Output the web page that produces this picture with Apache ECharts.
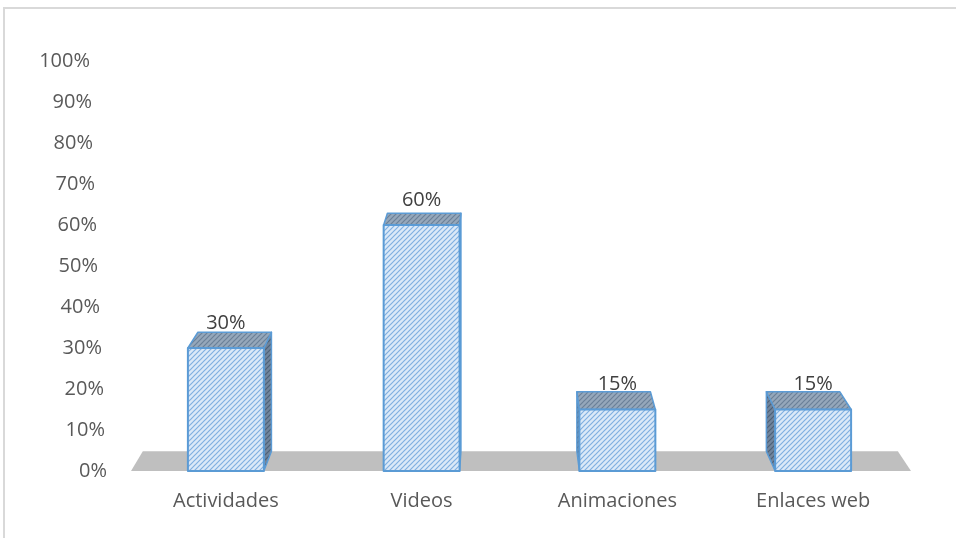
<!DOCTYPE html>
<html>
<head>
<meta charset="utf-8">
<script src="https://cdn.jsdelivr.net/npm/echarts@6/dist/echarts.min.js"></script>
<style>
  html, body { margin: 0; padding: 0; background: #ffffff; }
  #chart { width: 956px; height: 538px; }
</style>
</head>
<body>
<div id="chart"></div>
<script>
// Chart data
const categories = ['Actividades', 'Videos', 'Animaciones', 'Enlaces web'];
const values = [30, 60, 15, 15];
const yTicks = [0, 10, 20, 30, 40, 50, 60, 70, 80, 90, 100];

const FONT = '"Open Sans", "Noto Sans", sans-serif';

// Diagonal hatch tiles used to fill the bar faces
function hatch(bg, line) {
  const s = 5;
  const c = document.createElement('canvas');
  c.width = s; c.height = s;
  const g = c.getContext('2d');
  g.fillStyle = bg;
  g.fillRect(0, 0, s, s);
  g.strokeStyle = line;
  g.lineWidth = 1.2;
  g.beginPath();
  g.moveTo(-1, s + 1); g.lineTo(s + 1, -1);
  g.moveTo(-1, 1); g.lineTo(1, -1);
  g.moveTo(s - 1, s + 1); g.lineTo(s + 1, s - 1);
  g.stroke();
  return { type: 'pattern', image: c, repeat: 'repeat' };
}
const frontFill = hatch('#dbe9f8', '#80afe0');
const topFill = hatch('#95a7ba', '#6b8098');
const sideFill = hatch('#71859d', '#4d6177');
const EDGE = '#5b9bd5';

// Perspective helpers: points recede toward a vanishing point above the plot
function vanish(cs) {
  return [cs.x + cs.width * 0.476, cs.y - 205];
}
const DEPTH = 0.032;
function recede(p, vp) {
  return [p[0] + DEPTH * (vp[0] - p[0]), p[1] + DEPTH * (vp[1] - p[1])];
}

function renderFloor(params, api) {
  const cs = params.coordSys;
  const vp = vanish(cs);
  const y0 = api.coord([0, 0])[1];
  const fl = [cs.x + 3, y0];
  const fr = [cs.x + cs.width, y0];
  return {
    type: 'polygon',
    shape: { points: [fl, fr, recede(fr, vp), recede(fl, vp)] },
    style: { fill: '#bfbfbf', stroke: null }
  };
}

function renderBar(params, api) {
  const cs = params.coordSys;
  const vp = vanish(cs);
  const idx = api.value(0);
  const v = api.value(1);
  const base = api.coord([idx, 0]);
  const top = api.coord([idx, v]);
  const half = api.size([1, 0])[0] * 0.194;
  const x0 = base[0] - half, x1 = base[0] + half;
  const yb = base[1], yt = top[1];
  const children = [];

  // side face (whichever side faces the vanishing point)
  let sx = null;
  if (vp[0] > x1) sx = x1;
  else if (vp[0] < x0) sx = x0;
  if (sx !== null) {
    children.push({
      type: 'polygon',
      shape: { points: [[sx, yt], [sx, yb], recede([sx, yb], vp), recede([sx, yt], vp)] },
      style: { fill: sideFill, stroke: EDGE, lineWidth: 1.5, lineJoin: 'round' }
    });
  }
  // top face
  children.push({
    type: 'polygon',
    shape: { points: [[x0, yt], [x1, yt], recede([x1, yt], vp), recede([x0, yt], vp)] },
    style: { fill: topFill, stroke: EDGE, lineWidth: 1.5, lineJoin: 'round' }
  });
  // front face
  children.push({
    type: 'rect',
    shape: { x: x0, y: yt, width: x1 - x0, height: yb - yt },
    style: { fill: frontFill, stroke: EDGE, lineWidth: 2, lineJoin: 'round' }
  });
  // value label
  children.push({
    type: 'text',
    style: {
      text: v + '%', x: base[0], y: yt - 25,
      align: 'center', verticalAlign: 'middle',
      font: '20px ' + FONT, fill: '#404040'
    }
  });
  return { type: 'group', children: children };
}

// Tick labels lean slightly with the perspective of the back wall
const tickRich = {};
yTicks.forEach(function (t) {
  tickRich['t' + t] = {
    fontSize: 20, fontFamily: FONT, color: '#595959',
    padding: [0, Math.round(17 * t / 100), 0, 0]
  };
});

const chart = echarts.init(document.getElementById('chart'), null, { renderer: 'canvas' });
chart.setOption({
  animation: false,
  backgroundColor: '#ffffff',
  graphic: [{
    type: 'rect',
    shape: { x: 4, y: 8, width: 1000, height: 600 },
    style: { fill: 'none', stroke: '#d9d9d9', lineWidth: 2 },
    silent: true
  }],
  grid: { left: 128, right: 45, top: 61, bottom: 67 },
  xAxis: {
    type: 'category',
    data: categories,
    axisLine: { show: false },
    axisTick: { show: false },
    splitLine: { show: false },
    axisLabel: { fontSize: 20, fontFamily: FONT, color: '#595959', margin: 20 }
  },
  yAxis: {
    type: 'value',
    min: 0, max: 100, interval: 10,
    axisLine: { show: false },
    axisTick: { show: false },
    splitLine: { show: false },
    axisLabel: {
      margin: 21,
      formatter: function (v) { return '{t' + v + '|' + v + '%}'; },
      rich: tickRich
    }
  },
  series: [
    {
      type: 'custom',
      name: 'floor',
      renderItem: renderFloor,
      data: [[0, 0]],
      z: 1,
      silent: true
    },
    {
      type: 'custom',
      name: 'bars',
      renderItem: renderBar,
      encode: { x: 0, y: 1 },
      data: values.map(function (v, i) { return [i, v]; }),
      z: 2
    }
  ]
});
</script>
</body>
</html>
